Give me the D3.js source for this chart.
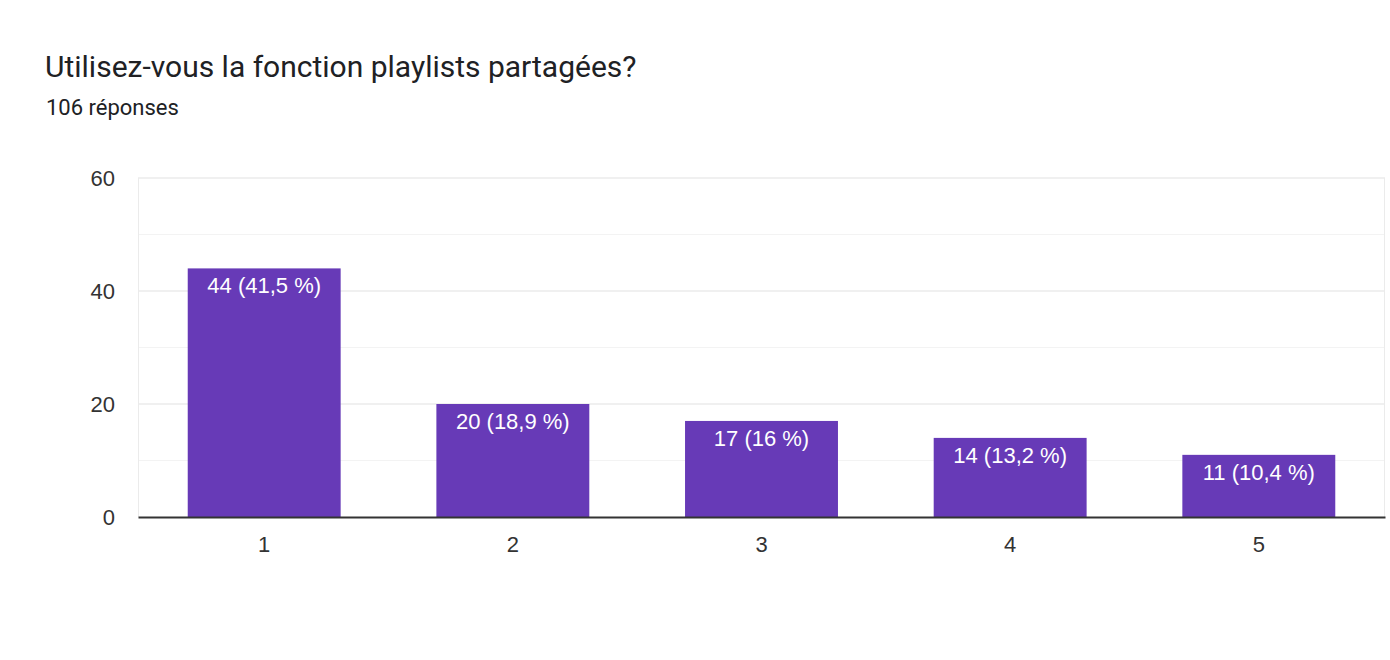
<!DOCTYPE html>
<html>
<head>
<meta charset="utf-8">
<script src="https://d3js.org/d3.v7.min.js"></script>
<style>
  body { margin: 0; background: #fff; }
  .title { font-family: Roboto, sans-serif; font-size: 30px; fill: #202124; }
  .subtitle { font-family: Roboto, sans-serif; font-size: 22px; fill: #202124; }
  .tick text { font-family: "Liberation Sans", Arial, sans-serif; font-size: 22px; fill: #333; }
  .bar-label { font-family: "Liberation Sans", Arial, sans-serif; font-size: 22px; fill: #fff; }
</style>
</head>
<body>
<svg id="chart"></svg>
<script>
// data
const categories = ["1", "2", "3", "4", "5"];
const counts = [44, 20, 17, 14, 11];
const percents = ["41,5", "18,9", "16", "13,2", "10,4"];
const yTicks = [0, 20, 40, 60];
const yMinor = [10, 30, 50];

const W = 1390, H = 660;
const margin = { top: 178, right: 5, bottom: 143, left: 138 };
const width = W - margin.left - margin.right;
const height = H - margin.top - margin.bottom;

const svg = d3.select("#chart").attr("width", W).attr("height", H);

svg.append("text").attr("class", "title")
  .attr("x", 45).attr("y", 77)
  .text("Utilisez-vous la fonction playlists partagées?");
svg.append("text").attr("class", "subtitle")
  .attr("x", 46).attr("y", 115)
  .text("106 réponses");

const g = svg.append("g").attr("transform", `translate(${margin.left},${margin.top})`);

const x = d3.scaleBand().domain(categories).range([0, width]).paddingInner(0.385).paddingOuter(0.2);
const y = d3.scaleLinear().domain([0, 60]).range([height, 0]);

// minor gridlines
g.selectAll(".minor").data(yMinor).enter().append("line")
  .attr("x1", 0).attr("x2", width)
  .attr("y1", d => y(d)).attr("y2", d => y(d))
  .attr("stroke", "#f3f3f3").attr("stroke-width", 1);

// major gridlines
g.selectAll(".major").data(yTicks.slice(1)).enter().append("line")
  .attr("x1", 0).attr("x2", width)
  .attr("y1", d => y(d)).attr("y2", d => y(d))
  .attr("stroke", "#ebebeb").attr("stroke-width", 1.5);

// left / right frame
g.append("line").attr("x1", 0.5).attr("x2", 0.5).attr("y1", 0).attr("y2", height)
  .attr("stroke", "#ebebeb");
g.append("line").attr("x1", width - 0.5).attr("x2", width - 0.5).attr("y1", 0).attr("y2", height)
  .attr("stroke", "#ebebeb");

// y axis
const yAxis = g.append("g")
  .call(d3.axisLeft(y).tickValues(yTicks).tickSize(0).tickPadding(23));
yAxis.select(".domain").remove();

const rows = categories.map((c, i) => ({ cat: c, n: counts[i], pct: percents[i] }));

// bars
g.selectAll(".bar").data(rows).enter().append("rect")
  .attr("class", "bar")
  .attr("x", d => x(d.cat))
  .attr("y", d => y(d.n))
  .attr("width", x.bandwidth())
  .attr("height", d => height - y(d.n))
  .attr("fill", "#673ab7");

g.selectAll(".bar-label").data(rows).enter().append("text")
  .attr("class", "bar-label")
  .attr("x", d => x(d.cat) + x.bandwidth() / 2)
  .attr("y", d => y(d.n) + 25)
  .attr("text-anchor", "middle")
  .text(d => `${d.n} (${d.pct} %)`);

// x axis
const xAxis = g.append("g")
  .attr("transform", `translate(0,${height})`)
  .call(d3.axisBottom(x).tickSize(0).tickPadding(19));
xAxis.select(".domain").attr("stroke", "#333").attr("stroke-width", 2);
</script>
</body>
</html>
